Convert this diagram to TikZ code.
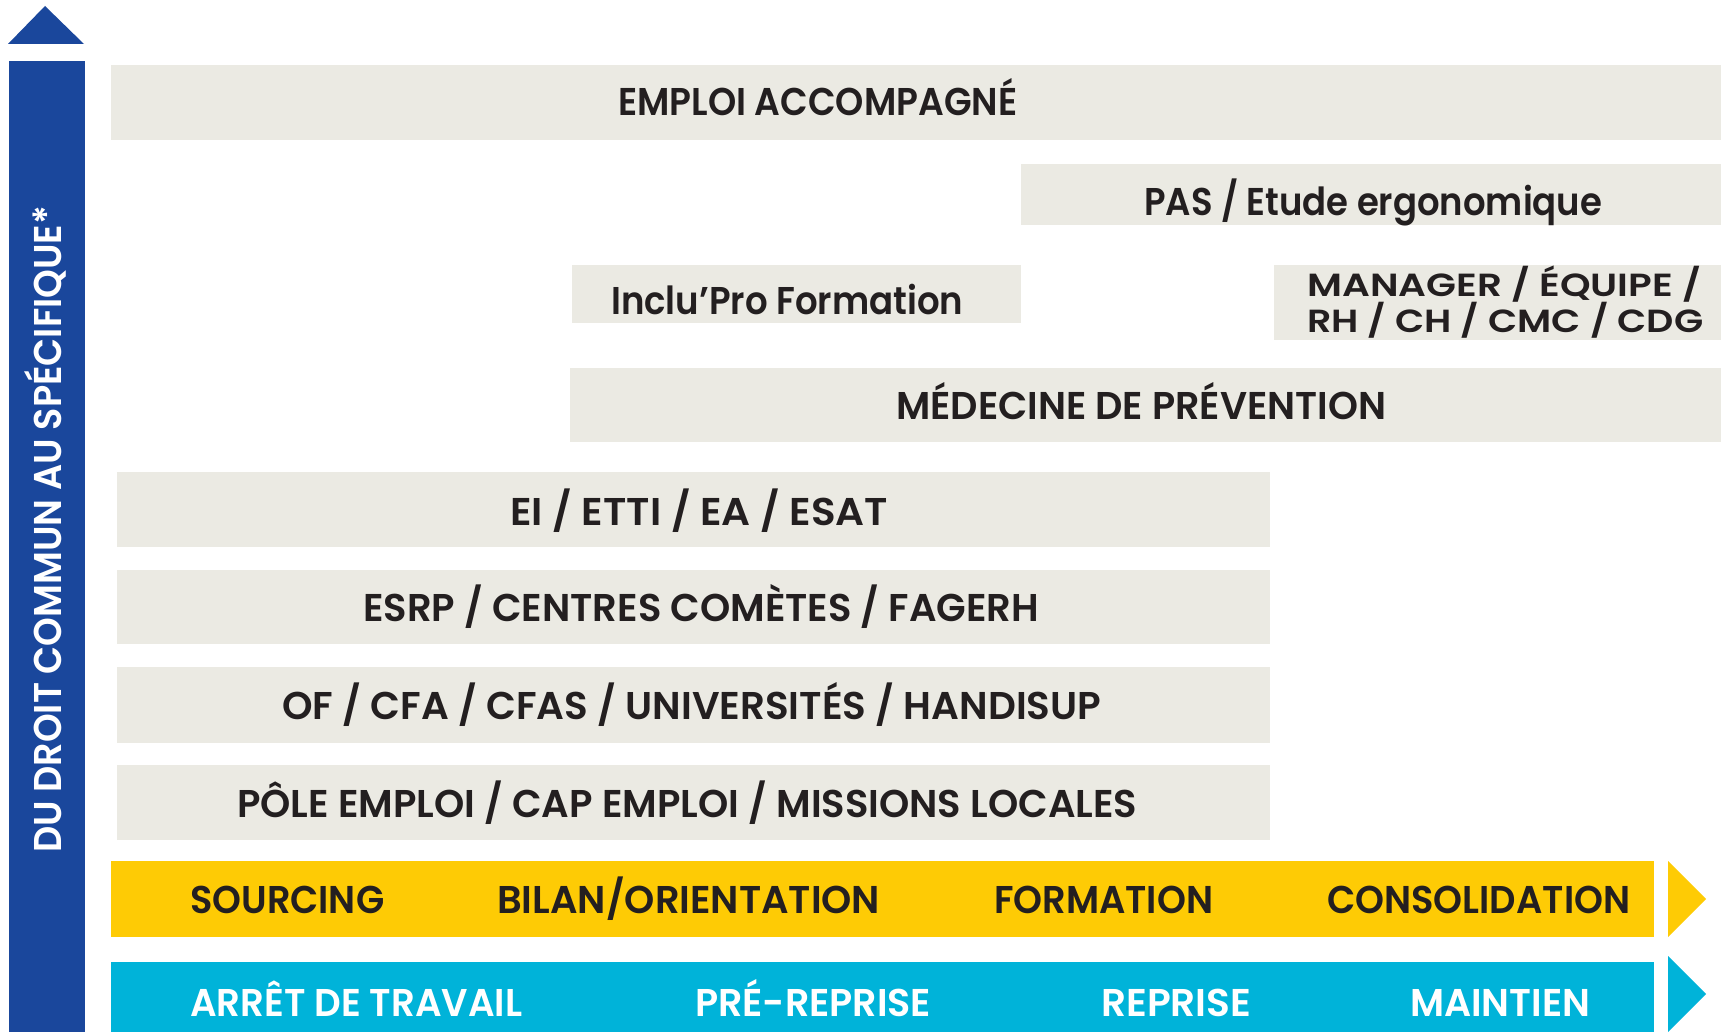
\documentclass[tikz,border=0pt]{standalone}
\usepackage{fontspec}
\setmainfont{Poppins}[BoldFont={Poppins SemiBold}]
\usepackage{graphicx}
\definecolor{bblue}{HTML}{1A479C}
\definecolor{bgray}{HTML}{EBEAE3}
\definecolor{byellow}{HTML}{FECB05}
\definecolor{bcyan}{HTML}{00B3D9}
\definecolor{dtext}{HTML}{231F20}
\newcommand{\fitw}[2]{\resizebox{#1pt}{\height}{#2}}
\tikzset{
  lbl/.style={anchor=base west, inner sep=0pt, text=dtext, font=\bfseries\fontsize{38.7}{40}\selectfont},
  wlbl/.style={lbl, text=white},
  slbl/.style={lbl, font=\bfseries\fontsize{32}{33}\selectfont},
}
\begin{document}
\begin{tikzpicture}[x=1pt,y=-1pt]
\useasboundingbox (0,0) rectangle (1721,1032);
% vertical axis
\fill[bblue] (8,44) -- (45,6) -- (84,44) -- cycle;
\fill[bblue] (9,61) rectangle (85,1032);
\node[wlbl, rotate=90] (axis) at (61,853) {\fitw{647}{DU DROIT COMMUN AU SPÉCIFIQUE*}};
% gray boxes
\fill[bgray] (111,65) rectangle (1721,140);
\fill[bgray] (1021,164) rectangle (1721,225);
\fill[bgray] (572,265) rectangle (1021,323);
\fill[bgray] (1274,265) rectangle (1721,340);
\fill[bgray] (570,368) rectangle (1721,442);
\fill[bgray] (117,472) rectangle (1270,547);
\fill[bgray] (117,570) rectangle (1270,644);
\fill[bgray] (117,667) rectangle (1270,743);
\fill[bgray] (117,765) rectangle (1270,840);
\node[lbl] (emploi) at (618,116) {\fitw{399}{EMPLOI ACCOMPAGNÉ}};
\node[lbl] (pas) at (1144,216) {\fitw{458}{PAS / Etude ergonomique}};
\node[lbl] (inclu) at (611,314) {\fitw{352}{Inclu’Pro Formation}};
\node[slbl] (manager) at (1307,297) {\fitw{394}{MANAGER / ÉQUIPE /}};
\node[slbl] (rh) at (1307,333) {\fitw{396}{RH / CH / CMC / CDG}};
\node[lbl] (medecine) at (896,419) {\fitw{490}{MÉDECINE DE PRÉVENTION}};
\node[lbl] (ei) at (510,525) {\fitw{378}{EI / ETTI / EA / ESAT}};
\node[lbl] (esrp) at (363,621) {\fitw{676}{ESRP / CENTRES COMÈTES / FAGERH}};
\node[lbl] (of) at (282,719) {\fitw{819}{OF / CFA / CFAS / UNIVERSITÉS / HANDISUP}};
\node[lbl] (pole) at (237,817) {\fitw{900}{PÔLE EMPLOI / CAP EMPLOI / MISSIONS LOCALES}};
% yellow bar
\fill[byellow] (111,861) rectangle (1654,937);
\fill[byellow] (1668,861) -- (1706,899) -- (1668,937) -- cycle;
\node[lbl] (sourcing) at (190,913) {\fitw{194}{SOURCING}};
\node[lbl] (bilan) at (497,913) {\fitw{383}{BILAN/ORIENTATION}};
\node[lbl] (formation) at (994,913) {\fitw{219}{FORMATION}};
\node[lbl] (consol) at (1327,913) {\fitw{303}{CONSOLIDATION}};
% cyan bar
\fill[bcyan] (111,962) rectangle (1654,1032);
\fill[bcyan] (1668,956) -- (1706,994) -- (1668,1032) -- cycle;
\node[wlbl] (arret) at (190,1016) {\fitw{332}{ARRÊT DE TRAVAIL}};
\node[wlbl] (prerep) at (695,1016) {\fitw{236}{PRÉ-REPRISE}};
\node[wlbl] (reprise) at (1101,1016) {\fitw{150}{REPRISE}};
\node[wlbl] (maintien) at (1410,1016) {\fitw{180}{MAINTIEN}};
\end{tikzpicture}
\end{document}
